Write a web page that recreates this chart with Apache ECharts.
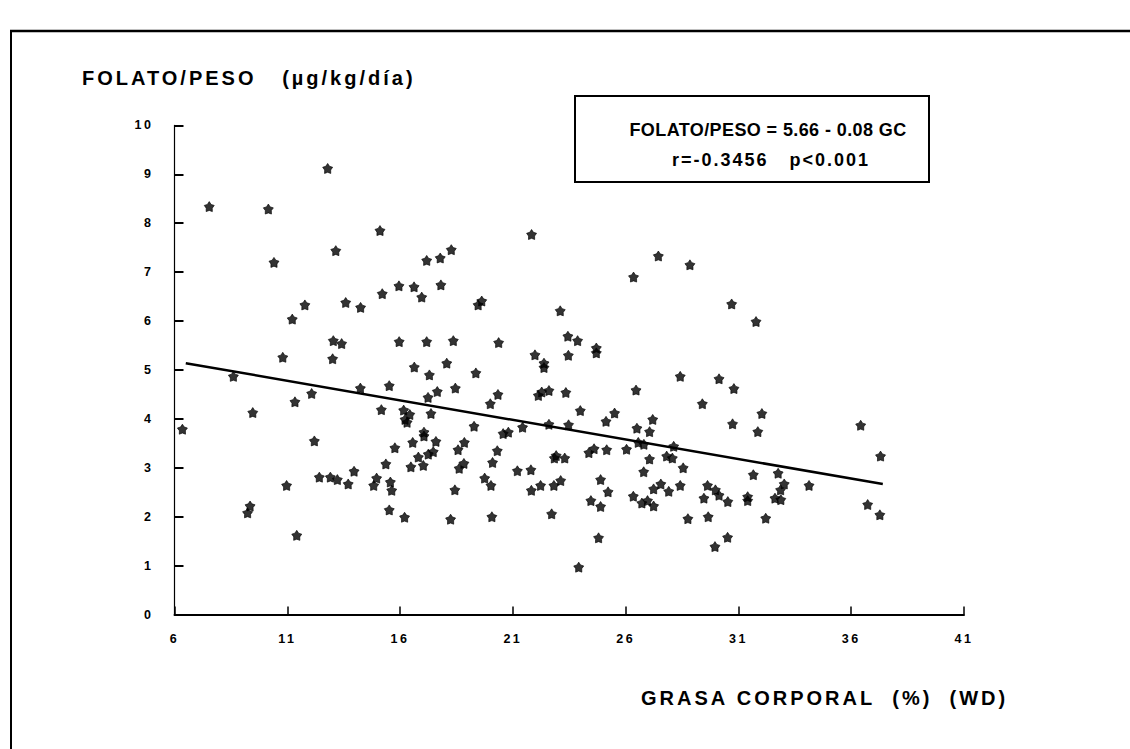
<!DOCTYPE html>
<html>
<head>
<meta charset="utf-8">
<script src="https://cdn.jsdelivr.net/npm/echarts@6/dist/echarts.min.js"></script>
<style>
  html, body { margin: 0; padding: 0; background: #fff; }
  #chart { width: 1130px; height: 749px; }
</style>
</head>
<body>
<div id="chart"></div>
<script>
// Body fat (%) per subject
var grasaCorporal = [
  12.79, 7.54, 10.16, 13.15, 10.41, 11.78, 13.59, 11.22, 13.04, 13.41,
  10.80, 13.01, 8.61, 12.08, 11.34, 9.47, 6.35, 12.20, 12.42, 12.91,
  13.22, 13.70, 10.97, 9.35, 9.24, 11.42, 15.11, 18.27, 17.78, 17.18,
  15.95, 16.62, 17.81, 15.21, 16.96, 14.25, 19.46, 19.62, 15.96, 17.18,
  18.36, 20.37, 16.63, 18.07, 17.30, 19.36, 14.24, 15.52, 17.65, 18.45,
  20.34, 17.24, 20.00, 15.17, 16.16, 16.43, 17.37, 16.22, 16.31, 19.28,
  20.57, 20.80, 21.43, 17.06, 17.06, 16.56, 17.59, 18.85, 15.77, 18.57,
  20.31, 17.47, 17.25, 16.81, 15.37, 17.03, 16.48, 18.83, 18.62, 20.10,
  13.96, 21.20, 14.96, 19.75, 14.83, 15.57, 20.03, 15.63, 18.43, 15.52,
  16.20, 18.24, 20.07, 21.83, 27.45, 28.85, 26.35, 23.10, 23.44, 23.87,
  24.70, 24.70, 21.98, 23.46, 22.38, 22.38, 28.42, 22.13, 22.28, 22.60,
  23.35, 26.46, 23.99, 25.51, 25.13, 27.20, 22.60, 23.47, 26.50, 27.06,
  26.56, 26.81, 28.13, 24.60, 24.37, 25.16, 26.04, 22.92, 22.84, 23.30,
  27.06, 27.82, 28.07, 21.80, 28.55, 26.80, 24.89, 23.12, 22.23, 22.82,
  21.82, 25.22, 27.56, 27.24, 28.42, 27.91, 26.34, 24.46, 26.72, 26.97,
  27.24, 24.89, 22.72, 28.76, 24.80, 23.92, 30.70, 31.78, 30.14, 30.80,
  29.40, 32.04, 30.74, 31.86, 36.42, 37.30, 31.66, 32.76, 34.13, 29.63,
  29.98, 30.14, 29.47, 30.53, 31.41, 31.41, 33.03, 32.87, 32.62, 32.88,
  36.73, 37.27, 29.66, 32.21, 30.52, 29.96
];

// Folate intake per body weight (µg/kg/día), same order as above
var folatoPeso = [
  9.12, 8.34, 8.29, 7.44, 7.20, 6.33, 6.38, 6.04, 5.60, 5.54,
  5.26, 5.23, 4.87, 4.52, 4.35, 4.13, 3.79, 3.55, 2.81, 2.81,
  2.76, 2.67, 2.64, 2.22, 2.08, 1.62, 7.85, 7.46, 7.29, 7.24,
  6.72, 6.70, 6.74, 6.56, 6.49, 6.28, 6.33, 6.41, 5.58, 5.58,
  5.60, 5.56, 5.06, 5.14, 4.90, 4.94, 4.63, 4.68, 4.56, 4.63,
  4.50, 4.44, 4.31, 4.19, 4.18, 4.09, 4.11, 3.99, 3.93, 3.85,
  3.70, 3.73, 3.83, 3.73, 3.65, 3.52, 3.54, 3.52, 3.41, 3.37,
  3.35, 3.33, 3.28, 3.22, 3.08, 3.05, 3.02, 3.09, 2.99, 3.11,
  2.93, 2.94, 2.79, 2.79, 2.64, 2.71, 2.64, 2.54, 2.55, 2.14,
  1.99, 1.95, 2.00, 7.77, 7.33, 7.15, 6.90, 6.21, 5.69, 5.60,
  5.45, 5.35, 5.31, 5.30, 5.14, 5.05, 4.87, 4.48, 4.55, 4.58,
  4.54, 4.59, 4.17, 4.12, 3.95, 3.99, 3.89, 3.88, 3.81, 3.74,
  3.52, 3.48, 3.44, 3.39, 3.31, 3.37, 3.38, 3.25, 3.20, 3.20,
  3.18, 3.24, 3.20, 2.96, 3.00, 2.92, 2.76, 2.74, 2.64, 2.64,
  2.54, 2.51, 2.67, 2.57, 2.64, 2.52, 2.42, 2.33, 2.28, 2.33,
  2.22, 2.21, 2.06, 1.96, 1.57, 0.97, 6.35, 5.99, 4.82, 4.62,
  4.31, 4.11, 3.90, 3.74, 3.87, 3.24, 2.86, 2.89, 2.64, 2.64,
  2.55, 2.44, 2.38, 2.31, 2.41, 2.33, 2.67, 2.55, 2.38, 2.35,
  2.25, 2.04, 2.00, 1.97, 1.58, 1.39
];

// Regression: FOLATO/PESO = 5.66 - 0.08 GC
var interceptFit = 5.66;
var slopeFit = -0.08;
var fitRange = [6.5, 37.4];

var xTicks = [6, 11, 16, 21, 26, 31, 36, 41];
var yTicks = [0, 1, 2, 3, 4, 5, 6, 7, 8, 9, 10];

var NB = '\u00a0';
var yTitle = 'FOLATO/PESO' + NB + NB + NB + '(\u00b5g/kg/d\u00eda)';
var xTitle = 'GRASA' + NB + 'CORPORAL' + NB + NB + '(%)' + NB + NB + '(WD)';
var eqText = 'FOLATO/PESO = 5.66 - 0.08 GC';
var statText = 'r=-0.3456' + NB + NB + NB + 'p<0.001';

var FONT = '"Liberation Sans", Arial, Helvetica, sans-serif';

var points = grasaCorporal.map(function (gc, i) { return [gc, folatoPeso[i]]; });
var fitLine = fitRange.map(function (gc) { return [gc, interceptFit + slopeFit * gc]; });

var starPath = 'path://M0,-10 L3.53,-4.85 L9.51,-3.09 L5.71,1.85 L5.88,8.09 L0,6 L-5.88,8.09 L-5.71,1.85 L-9.51,-3.09 L-3.53,-4.85 Z';

var labelStyle = { color: '#000', fontFamily: FONT, fontWeight: 'bold', fontSize: 12.5 };

var dom = document.getElementById('chart');
var chart = echarts.init(dom, null, { renderer: 'svg', width: 1130, height: 749 });

var option = {
  animation: false,
  backgroundColor: '#fff',
  title: [
    {
      text: yTitle, left: 82, top: 68, padding: 0,
      textStyle: { color: '#000', fontFamily: FONT, fontWeight: 'bold', fontSize: 20 }
    },
    {
      text: xTitle, left: 641, top: 688, padding: 0,
      textStyle: { color: '#000', fontFamily: FONT, fontWeight: 'bold', fontSize: 20 }
    }
  ],
  grid: { left: 174.5, right: 166, top: 125.4, bottom: 134.4, containLabel: false },
  xAxis: {
    type: 'value', min: xTicks[0], max: xTicks[xTicks.length - 1],
    axisLine: { show: true, lineStyle: { color: '#000', width: 2 } },
    axisTick: { show: true, inside: true, length: 8, customValues: xTicks, lineStyle: { color: '#000', width: 1.5 } },
    axisLabel: Object.assign({ margin: 18, customValues: xTicks }, labelStyle),
    splitLine: { show: false }
  },
  yAxis: {
    type: 'value', min: yTicks[0], max: yTicks[yTicks.length - 1], interval: 1,
    axisLine: { show: true, lineStyle: { color: '#000', width: 1.2 } },
    axisTick: { show: true, inside: true, length: 9, lineStyle: { color: '#000', width: 2 } },
    axisLabel: Object.assign({ margin: 21 }, labelStyle),
    splitLine: { show: false }
  },
  series: [
    {
      type: 'scatter', data: points, symbol: starPath, symbolSize: 10,
      itemStyle: { color: '#000', borderColor: '#000', borderWidth: 0.8 }, silent: true, z: 3
    },
    {
      type: 'line', data: fitLine, symbol: 'none', silent: true, z: 2,
      lineStyle: { color: '#000', width: 2.5 }
    }
  ],
  graphic: [
    // page frame
    { type: 'line', silent: true, shape: { x1: 10, y1: 31, x2: 1130, y2: 31 }, style: { stroke: '#000', lineWidth: 2.5 } },
    { type: 'line', silent: true, shape: { x1: 11, y1: 30, x2: 11, y2: 749 }, style: { stroke: '#000', lineWidth: 2 } },
    // equation box
    { type: 'rect', silent: true, z: 10, shape: { x: 575, y: 96, width: 354, height: 86 }, style: { fill: '#fff', stroke: '#000', lineWidth: 2 } },
    { type: 'text', silent: true, z: 11, style: { text: eqText, x: 768, y: 130, align: 'center', verticalAlign: 'middle', fill: '#000', font: 'bold 18px ' + FONT } },
    { type: 'text', silent: true, z: 11, style: { text: statText, x: 771, y: 160, align: 'center', verticalAlign: 'middle', fill: '#000', font: 'bold 18px ' + FONT } }
  ]
};

// Wide letter spacing for axis text, tighter inside the equation box
function spaceLetters() {
  var texts = dom.querySelectorAll('svg text');
  for (var i = 0; i < texts.length; i++) {
    var s = texts[i].textContent;
    var gap;
    if (s === eqText) gap = '0.4px';
    else if (s === statText) gap = '2px';
    else if (s.length <= 2) gap = '2.5px';
    else gap = '3px';
    texts[i].style.letterSpacing = gap;
  }
}
chart.on('finished', spaceLetters);
chart.setOption(option);
spaceLetters();
</script>
</body>
</html>
